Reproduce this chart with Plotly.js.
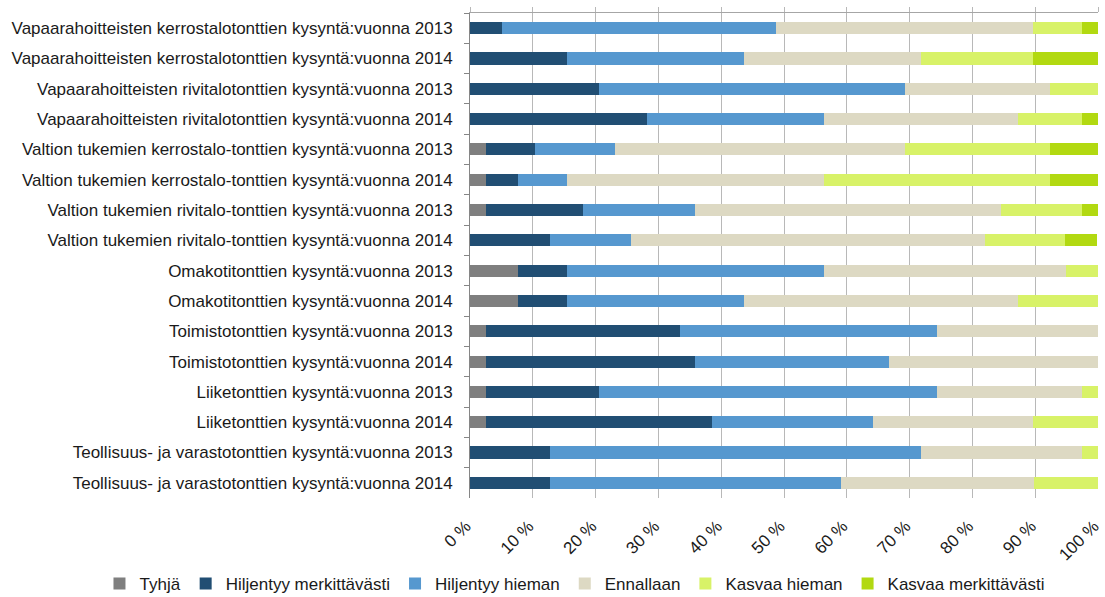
<!DOCTYPE html>
<html>
<head>
<meta charset="utf-8">
<script src="https://cdn.plot.ly/plotly-3.0.1.min.js"></script>
<style>html,body{margin:0;padding:0;background:#fff;}#chart{width:1105px;height:597px;}</style>
</head>
<body>
<div id="chart"></div>
<script>
const categories = [
  "Vapaarahoitteisten kerrostalotonttien kysyntä:vuonna 2013",
  "Vapaarahoitteisten kerrostalotonttien kysyntä:vuonna 2014",
  "Vapaarahoitteisten rivitalotonttien kysyntä:vuonna 2013",
  "Vapaarahoitteisten rivitalotonttien kysyntä:vuonna 2014",
  "Valtion tukemien kerrostalo-tonttien kysyntä:vuonna 2013",
  "Valtion tukemien kerrostalo-tonttien kysyntä:vuonna 2014",
  "Valtion tukemien rivitalo-tonttien kysyntä:vuonna 2013",
  "Valtion tukemien rivitalo-tonttien kysyntä:vuonna 2014",
  "Omakotitonttien kysyntä:vuonna 2013",
  "Omakotitonttien kysyntä:vuonna 2014",
  "Toimistotonttien kysyntä:vuonna 2013",
  "Toimistotonttien kysyntä:vuonna 2014",
  "Liiketonttien kysyntä:vuonna 2013",
  "Liiketonttien kysyntä:vuonna 2014",
  "Teollisuus- ja varastotonttien kysyntä:vuonna 2013",
  "Teollisuus- ja varastotonttien kysyntä:vuonna 2014"
];

const seriesNames = ["Tyhjä", "Hiljentyy merkittävästi", "Hiljentyy hieman", "Ennallaan", "Kasvaa hieman", "Kasvaa merkittävästi"];

const tyhja               = [0,   0,    0,    0,    2.6,  2.6,  2.6,  0,    7.7,  7.7,  2.6,  2.6,  2.6,  2.6,  0,    0];
const hiljentyyMerkittava = [5.1, 15.4, 20.5, 28.2, 7.7,  5.1,  15.4, 12.8, 7.7,  7.7,  30.8, 33.3, 17.9, 35.9, 12.8, 12.8];
const hiljentyyHieman     = [43.6, 28.2, 48.7, 28.2, 12.8, 7.7, 17.9, 12.8, 41.0, 28.2, 41.0, 30.8, 53.8, 25.6, 59.0, 46.2];
const ennallaan           = [41.0, 28.2, 23.1, 30.8, 46.2, 41.0, 48.7, 56.4, 38.5, 43.6, 25.6, 33.3, 23.1, 25.6, 25.6, 30.8];
const kasvaaHieman        = [7.7, 17.9, 7.7,  10.3, 23.1, 35.9, 12.8, 12.8, 5.1,  12.8, 0,    0,    2.6,  10.3, 2.6,  10.3];
const kasvaaMerkittava    = [2.6, 10.3, 0,    2.6,  7.7,  7.7,  2.6,  5.1,  0,    0,    0,    0,    0,    0,    0,    0];

const seriesValues = [tyhja, hiljentyyMerkittava, hiljentyyHieman, ennallaan, kasvaaHieman, kasvaaMerkittava];
const seriesColors = ["#7f7f7f", "#214e73", "#5698cf", "#ddd9c3", "#d8f268", "#b2d911"];

const FONT = "Liberation Sans, Arial, sans-serif";

const traces = seriesNames.map((name, i) => ({
  type: "bar",
  orientation: "h",
  name: name,
  y: categories,
  x: seriesValues[i],
  marker: { color: seriesColors[i], line: { width: 0 } },
  hoverinfo: "x+name"
}));

traces.push({
  type: "scatter", x: [], y: [], xaxis: "x2", yaxis: "y",
  showlegend: false, hoverinfo: "skip"
});

const layout = {
  width: 1105,
  height: 597,
  margin: { l: 470, r: 7, t: 13, b: 99, pad: 0, autoexpand: false },
  paper_bgcolor: "#ffffff",
  plot_bgcolor: "#ffffff",
  barmode: "stack",
  bargap: 0.6,
  font: { family: FONT, size: 17, color: "#1a1a1a" },
  showlegend: true,
  legend: {
    orientation: "h",
    xref: "paper",
    yref: "paper",
    x: -0.59, xanchor: "left",
    y: -0.1773, yanchor: "middle",
    bgcolor: "rgba(0,0,0,0)",
    font: { family: FONT, size: 17, color: "#1a1a1a" },
    traceorder: "normal",
    itemwidth: 30
  },
  xaxis: {
    range: [0, 100],
    dtick: 10,
    tick0: 0,
    ticksuffix: " %",
    tickangle: -45,
    showgrid: true,
    gridcolor: "#b8b8b8",
    gridwidth: 1,
    zeroline: false,
    showline: false,
    ticks: "",
    ticklabelstandoff: 14,
    ticklabelshift: -4,
    ticklabeloverflow: "allow",
    automargin: false,
    tickfont: { family: FONT, size: 17, color: "#1a1a1a" },
    fixedrange: true
  },
  xaxis2: {
    overlaying: "x",
    side: "top",
    range: [0, 100],
    dtick: 10,
    tick0: 0,
    showgrid: false,
    zeroline: false,
    showline: true,
    linecolor: "#a6a6a6",
    linewidth: 1,
    ticks: "outside",
    ticklen: 5,
    tickcolor: "#b8b8b8",
    showticklabels: false,
    automargin: false,
    fixedrange: true
  },
  yaxis: {
    type: "category",
    autorange: "reversed",
    showgrid: false,
    zeroline: false,
    showline: true,
    linecolor: "#868686",
    linewidth: 1,
    ticks: "outside",
    ticklen: 5,
    tickcolor: "#868686",
    tickson: "boundaries",
    ticklabelstandoff: 13,
    automargin: false,
    tickfont: { family: FONT, size: 17, color: "#1a1a1a" },
    fixedrange: true
  }
};

Plotly.newPlot("chart", traces, layout, { displayModeBar: false, staticPlot: true });
</script>
</body>
</html>
